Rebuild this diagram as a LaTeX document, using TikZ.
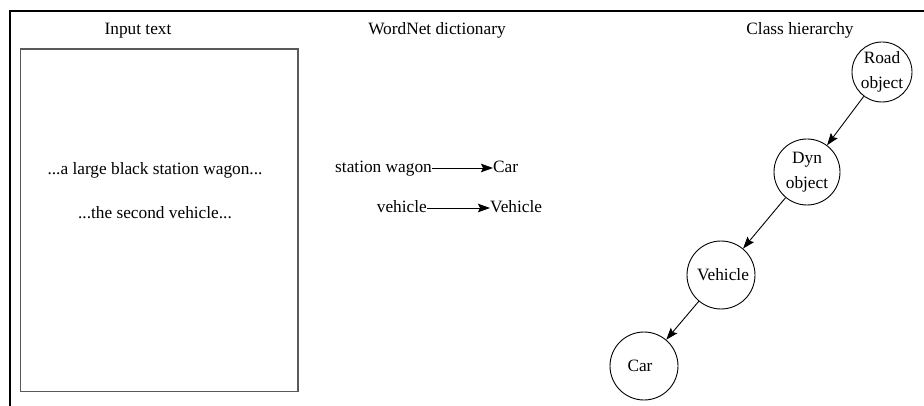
\documentclass[tikz,border=0pt]{standalone}
\usepackage{fontspec}
\setmainfont{Liberation Serif}
\usetikzlibrary{arrows.meta}
\begin{document}
\begin{tikzpicture}[x=1pt,y=-1pt,
  every node/.style={font=\fontsize{17.3}{25}\selectfont},
  title/.style={anchor=base, inner sep=0pt},
  line/.style={anchor=base, inner sep=0pt},
  word/.style={inner sep=0pt, text height=10pt, text depth=0pt},
  cls/.style={draw, circle, line width=0.9pt, minimum size=64pt, inner sep=0pt, align=center},
  arr/.style={line width=0.9pt, -{Stealth[length=12pt,width=8.5pt,inset=2pt]}},
]
\useasboundingbox (0,0) rectangle (924,406);

% outer frame
\draw[line width=2.2pt] (10,420) -- (10,11) -- (940,11);

% column titles
\node[title] (t1) at (138,35) {Input text};
\node[title] (t2) at (437,35) {WordNet dictionary};
\node[title] (t3) at (800,35) {Class hierarchy};

% input text panel
\draw[black!65, line width=1.2pt] (20.5,49) rectangle (298,391.5);
\node[line] (l1) at (155,175) {...a large black station wagon...};
\node[line] (l2) at (155,219) {...the second vehicle...};

% dictionary entries
\node[word, anchor=base east] (sw) at (432,173) {station wagon};
\node[word, anchor=base west] (car) at (493,173) {Car};
\node[word, anchor=base east] (veh) at (427,213) {vehicle};
\node[word, anchor=base west] (Veh) at (490,213) {Vehicle};
\draw[arr] (sw) -- (car);
\draw[arr] (veh) -- (Veh);

% class hierarchy
\node[cls, minimum size=60pt] (road) at (882,72) {Road\\object};
\node[cls, minimum size=66pt] (dyn) at (807,172) {Dyn\\object};
\node[cls, minimum size=68pt] (vcls) at (721,275) {\hspace*{4pt}Vehicle};
\node[cls, minimum size=68pt] (ccls) at (644,366) {Car\hspace*{8pt}};
\draw[arr] (road) -- (dyn);
\draw[arr] (dyn) -- (vcls);
\draw[arr] (vcls) -- (ccls);
\end{tikzpicture}
\end{document}
